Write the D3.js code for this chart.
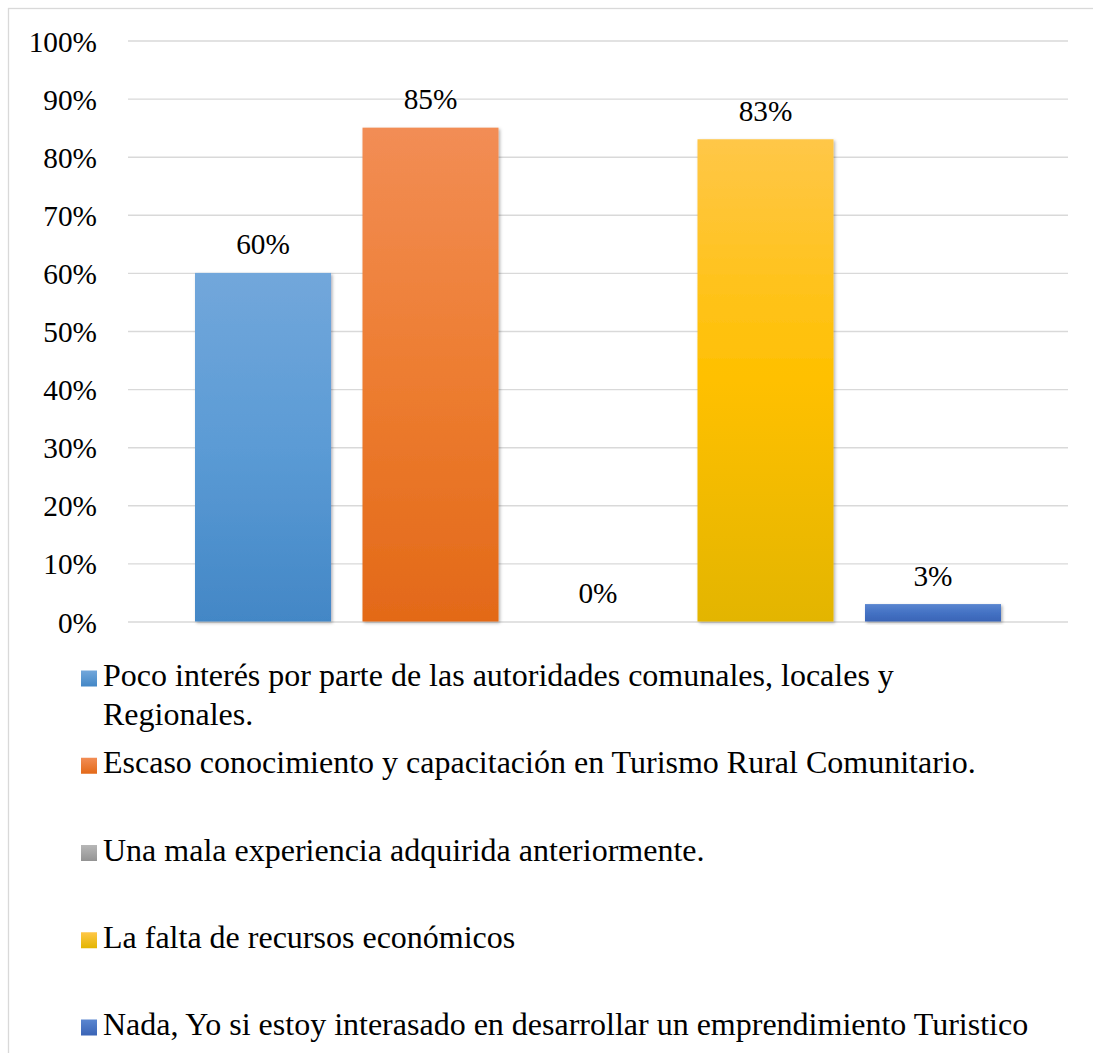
<!DOCTYPE html>
<html>
<head>
<meta charset="utf-8">
<script src="https://cdn.jsdelivr.net/npm/d3@7/dist/d3.min.js"></script>
<style>
  html, body { margin: 0; padding: 0; background: #fff; }
  svg { display: block; }
</style>
</head>
<body>
<svg id="chart" width="1093" height="1053"></svg>
<script>
// ---- data ----
const seriesNames = [
  "Poco interés por parte de las autoridades comunales, locales y Regionales.",
  "Escaso conocimiento y capacitación en Turismo Rural Comunitario.",
  "Una mala experiencia adquirida anteriormente.",
  "La falta de recursos económicos",
  "Nada, Yo si estoy interasado en desarrollar un emprendimiento Turistico"
];
const legendLines = [
  ["Poco interés por parte de las autoridades comunales, locales y", "Regionales."],
  ["Escaso conocimiento y capacitación en Turismo Rural Comunitario."],
  ["Una mala experiencia adquirida anteriormente."],
  ["La falta de recursos económicos"],
  ["Nada, Yo si estoy interasado en desarrollar un emprendimiento Turistico"]
];
const values = [0.60, 0.85, 0.00, 0.83, 0.03];
const yTicks = [0, 0.1, 0.2, 0.3, 0.4, 0.5, 0.6, 0.7, 0.8, 0.9, 1.0];
const colors = [
  ["#72a7db", "#5b9bd5", "#4387c6"],
  ["#f28d55", "#ed7d31", "#e36918"],
  ["#b7b7b7", "#a5a5a5", "#939393"],
  ["#ffc748", "#ffc000", "#e3b500"],
  ["#5a86d0", "#4472c4", "#3a64b6"]
];

// ---- layout ----
const SERIF = '"Liberation Serif", "Times New Roman", Times, serif';
const svg = d3.select("#chart");
const plot = { left: 128, right: 1068, top: 40.5, bottom: 621.5 };
const FS = 29.3;
const LFS = 32;

svg.append("rect")
  .attr("x", 8.5).attr("y", 8.5)
  .attr("width", 1100).attr("height", 1100)
  .attr("fill", "#fff").attr("stroke", "#d9d9d9").attr("stroke-width", 1.3);

const defs = svg.append("defs");
colors.forEach((c, i) => {
  const g = defs.append("linearGradient").attr("id", "grad" + i)
    .attr("x1", 0).attr("y1", 0).attr("x2", 0).attr("y2", 1);
  g.append("stop").attr("offset", "0%").attr("stop-color", c[0]);
  g.append("stop").attr("offset", "50%").attr("stop-color", c[1]);
  g.append("stop").attr("offset", "100%").attr("stop-color", c[2]);
  const lg = defs.append("linearGradient").attr("id", "lgrad" + i)
    .attr("x1", 0).attr("y1", 0).attr("x2", 0).attr("y2", 1);
  lg.append("stop").attr("offset", "0%").attr("stop-color", c[0]);
  lg.append("stop").attr("offset", "100%").attr("stop-color", c[2]);
});
const f = defs.append("filter").attr("id", "shadow")
  .attr("x", "-10%").attr("y", "-10%").attr("width", "130%").attr("height", "130%");
f.append("feDropShadow").attr("dx", 1.5).attr("dy", 1.5).attr("stdDeviation", 1.8)
  .attr("flood-color", "#000").attr("flood-opacity", 0.3);

const y = d3.scaleLinear().domain([0, 1]).range([plot.bottom, plot.top]);
const x = d3.scaleBand().domain(seriesNames).range([195, 1001]).paddingInner(0.188).paddingOuter(0);

const grid = svg.append("g").attr("transform", `translate(${plot.left},0)`)
  .call(d3.axisLeft(y).tickValues(yTicks).tickSize(-(plot.right - plot.left)).tickFormat(""));
grid.select(".domain").remove();
grid.selectAll("line").attr("stroke", "#d9d9d9").attr("stroke-width", 1.4);

const yAxis = svg.append("g").attr("transform", `translate(97,0)`)
  .call(d3.axisLeft(y).tickValues(yTicks).tickSize(0).tickPadding(0).tickFormat(d3.format(".0%")));
yAxis.select(".domain").remove();
yAxis.attr("font-family", null).attr("font-size", null);
yAxis.selectAll("text")
  .style("font-family", SERIF).style("font-size", FS + "px")
  .attr("fill", "#000").attr("dy", null).attr("y", 10.5).attr("x", 0)
  .attr("text-anchor", "end");

svg.append("g").selectAll("rect").data(seriesNames).join("rect")
  .attr("x", d => x(d))
  .attr("width", x.bandwidth())
  .attr("y", (d, i) => y(values[i]))
  .attr("height", (d, i) => y(0) - y(values[i]))
  .attr("fill", (d, i) => `url(#grad${i})`)
  .attr("filter", (d, i) => values[i] > 0 ? "url(#shadow)" : null);

svg.append("g").selectAll("text").data(seriesNames).join("text")
  .attr("x", d => x(d) + x.bandwidth() / 2)
  .attr("y", (d, i) => y(values[i]) - 18.5)
  .attr("text-anchor", "middle")
  .style("font-family", SERIF).style("font-size", FS + "px")
  .attr("fill", "#000")
  .text((d, i) => d3.format(".0%")(values[i]));

const legY = d3.scaleLinear().domain([0, 4]).range([686, 1035]);
const leg = svg.append("g").selectAll("g").data(seriesNames).join("g")
  .attr("transform", (d, i) => `translate(0,${legY(i)})`);
leg.append("rect")
  .attr("x", 81).attr("y", -15.5).attr("width", 16).attr("height", 16)
  .attr("fill", (d, i) => `url(#lgrad${i})`);
leg.each(function(d, i) {
  const t = d3.select(this).append("text").attr("x", 103).attr("y", 0)
    .style("font-family", SERIF).style("font-size", LFS + "px").attr("fill", "#000");
  legendLines[i].forEach((ln, j) => {
    t.append("tspan").attr("x", 103).attr("y", j * 39).text(ln);
  });
});
</script>
</body>
</html>
